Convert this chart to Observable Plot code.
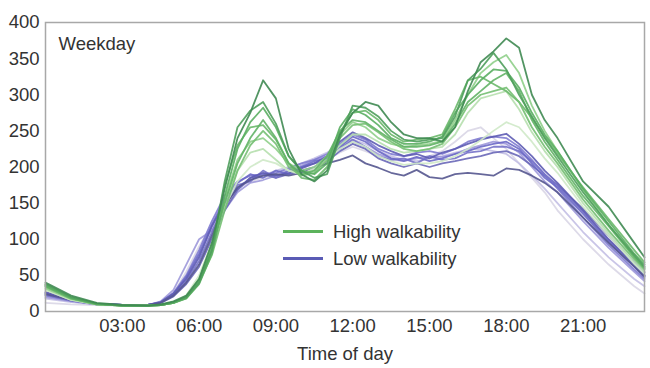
<!DOCTYPE html>
<html>
<head>
<meta charset="utf-8">
<script src="https://cdn.jsdelivr.net/npm/d3@7"></script>
<script src="https://cdn.jsdelivr.net/npm/@observablehq/plot@0.6"></script>
<style>
  html, body { margin: 0; padding: 0; background: #fff; }
  #wrap { position: relative; width: 650px; height: 368px; font-family: "Liberation Sans", Arial, sans-serif; color: #333; }
  #legend { position: absolute; left: 283px; top: 218px; font-size: 18.5px; line-height: 27px; }
  #legend .row { display: flex; align-items: center; }
  #legend .sw { width: 40px; height: 3px; margin-right: 10px; }
</style>
</head>
<body>
<div id="wrap"></div>
<script>
// Time of day (hours)
const times = [0,1,2,3,4,4.5,5,5.5,6,6.5,7,7.5,8,8.5,9,9.5,10,10.5,11,11.5,12,12.5,13,13.5,14,14.5,15,15.5,16,16.5,17,17.5,18,18.5,19,19.5,20,21,22,23,23.4];
const xTicks = [3,6,9,12,15,18,21];
const yTicks = [0,50,100,150,200,250,300,350,400];
const legendLabels = ["High walkability", "Low walkability"];
const panelLabel = "Weekday";
const xLabel = "Time of day";

// High walkability series
const high1 = [40,22,12,9,8,10,14,22,45,95,170,240,275,320,295,225,190,180,195,245,275,290,285,262,245,240,240,235,255,305,345,360,378,365,300,265,240,180,145,95,75];
const high2 = [38,20,11,8,8,9,13,20,40,85,180,255,278,290,260,215,195,185,190,240,285,282,270,250,238,235,238,240,270,320,336,358,335,300,270,240,215,165,120,78,62];
const high3 = [36,19,11,8,8,9,12,18,38,80,160,225,262,282,255,215,195,190,205,255,280,272,258,240,232,232,235,242,275,300,320,335,333,310,275,245,222,170,125,80,65];
const high4 = [35,18,10,8,8,9,12,19,42,85,150,205,240,265,240,205,190,195,215,250,265,262,250,238,228,228,230,235,260,290,305,320,330,305,265,235,210,160,118,75,60];
const high5 = [34,18,10,8,8,9,12,18,40,78,140,195,230,250,232,200,188,192,210,240,258,260,248,235,225,222,225,232,255,285,300,305,310,290,255,228,205,155,112,72,58];
const high6 = [32,17,10,8,8,9,12,20,45,90,155,210,235,240,225,205,195,200,215,245,262,255,240,232,228,230,232,236,265,300,330,345,355,330,285,250,222,168,120,76,60];
const high7 = [30,16,10,8,8,9,12,20,46,90,150,195,220,225,210,195,190,195,210,230,245,245,235,225,220,222,225,228,245,275,295,300,305,280,248,222,200,150,108,68,55];
const high8 = [30,16,10,8,8,9,12,22,50,95,145,180,200,210,205,195,190,198,210,225,235,228,215,208,203,205,205,208,215,225,237,250,262,255,235,212,192,145,105,66,52];
const high9 = [37,20,11,8,8,9,13,19,40,88,175,230,255,258,238,205,185,182,200,248,275,278,265,245,235,238,240,245,280,320,325,315,305,290,268,242,218,172,128,85,68];

// Low walkability series
const low1 = [24,16,11,9,9,12,22,40,65,105,145,172,182,188,190,188,192,198,205,210,216,205,199,192,188,196,186,184,190,192,190,188,198,196,188,178,165,130,95,62,48];
const low2 = [26,17,11,9,9,13,25,45,75,118,150,170,185,192,188,192,198,205,215,235,248,240,230,222,215,218,212,220,225,232,238,242,246,232,215,195,178,140,100,65,50];
const low3 = [25,16,11,9,9,12,24,48,80,120,155,178,190,185,195,190,200,208,212,228,242,235,222,212,208,214,208,212,218,222,228,232,235,225,205,185,172,135,96,62,48];
const low4 = [23,15,10,9,9,12,22,42,70,110,148,175,180,195,185,195,200,205,210,225,238,228,215,210,212,205,215,210,212,220,222,228,228,222,208,190,175,138,98,64,50];
const low5 = [22,15,10,9,9,13,26,50,85,125,160,180,188,190,192,198,205,210,218,232,245,238,225,218,215,220,222,218,225,235,240,242,240,228,210,190,170,130,92,58,45];
const low6 = [20,14,10,9,9,14,30,65,100,112,140,165,178,182,188,195,202,210,215,228,235,228,218,212,210,212,215,214,218,225,230,235,232,220,200,180,165,125,88,55,42];
const low7 = [12,10,9,8,8,12,25,55,90,120,150,170,180,185,190,195,200,205,210,220,228,222,215,210,208,212,215,222,235,250,255,240,225,205,185,165,140,100,65,35,25];
const low8 = [18,13,10,9,9,12,24,46,78,115,150,170,182,188,195,200,205,212,220,230,238,232,222,215,210,208,212,215,220,224,225,222,218,205,188,170,150,110,75,45,35];
const low9 = [27,17,11,9,9,12,21,38,62,100,140,168,185,190,185,190,195,200,208,222,232,225,212,205,200,205,200,205,208,212,215,220,222,215,202,188,175,142,105,68,54];

const highSeries = [high1, high2, high3, high4, high5, high6, high7, high8, high9];
const lowSeries = [low1, low2, low3, low4, low5, low6, low7, low8, low9];

// Styles (separate from data)
const highColors = ["#3f8a52","#4f9e5c","#5aae62","#62b366","#74bf72","#8fcf8a","#b6dfae","#cfe9c8","#6ab86a"];
const lowColors  = ["#55568f","#5e5cb4","#6c69c6","#7572c9","#7f7bd0","#9e99da","#d9d6e6","#c3bfe4","#6a68b8"];
const highLegend = "#5cb35c";
const lowLegend = "#5a5bb5";

for (const s of [...highSeries, ...lowSeries]) if (s.length !== times.length) throw new Error("length mismatch " + s.length);

const toRows = vals => times.map((t, i) => ({t, v: vals[i]}));

const marks = [];
// faint first, then the rest
const order = [6,7,5,8,4,3,2,1,0];
for (const i of order) marks.push(Plot.line(toRows(lowSeries[i]), {x: "t", y: "v", stroke: lowColors[i], strokeWidth: 1.8, strokeOpacity: 0.9}));
for (const i of order) marks.push(Plot.line(toRows(highSeries[i]), {x: "t", y: "v", stroke: highColors[i], strokeWidth: 1.8, strokeOpacity: 0.9}));
marks.push(Plot.frame({stroke: "#a8a8a8", strokeWidth: 1.5}));
marks.push(Plot.text([panelLabel], {frameAnchor: "top-left", dx: 13, dy: 14, text: d => d, textAnchor: "start", lineAnchor: "top", fill: "#333", fontSize: 18.5}));

const chart = Plot.plot({
  width: 650,
  height: 368,
  marginLeft: 45,
  marginRight: 6,
  marginTop: 22,
  marginBottom: 57,
  style: {fontFamily: "Liberation Sans, Arial, sans-serif", fontSize: "18.5px", color: "#333", background: "#fff"},
  x: {domain: [0, 23.4], ticks: xTicks, tickFormat: d => String(d).padStart(2, "0") + ":00", tickSize: 0, tickPadding: 7, label: xLabel, labelAnchor: "center", labelArrow: "none", labelOffset: 48},
  y: {domain: [0, 400], ticks: yTicks, tickSize: 0, tickPadding: 6, label: null},
  marks
});

const wrap = document.getElementById("wrap");
wrap.appendChild(chart);

const legend = document.createElement("div");
legend.id = "legend";
legendLabels.forEach((lab, i) => {
  const row = document.createElement("div");
  row.className = "row";
  const sw = document.createElement("div");
  sw.className = "sw";
  sw.style.background = i === 0 ? highLegend : lowLegend;
  const tx = document.createElement("span");
  tx.textContent = lab;
  row.appendChild(sw);
  row.appendChild(tx);
  legend.appendChild(row);
});
wrap.appendChild(legend);
</script>
</body>
</html>
